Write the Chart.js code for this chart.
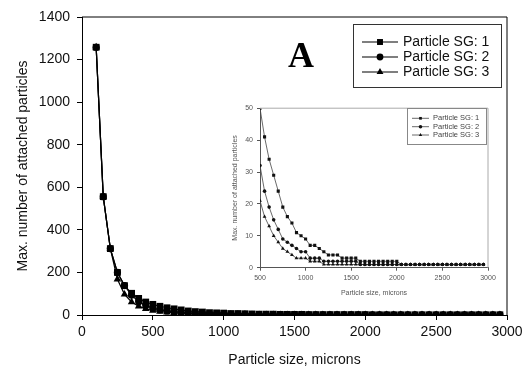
<!DOCTYPE html>
<html><head><meta charset="utf-8">
<script src="https://cdn.jsdelivr.net/npm/chart.js@4/dist/chart.umd.min.js"></script>
<style>
html,body{margin:0;padding:0;background:#fff;}
#wrap{position:relative;width:530px;height:369px;overflow:hidden;}
#main{position:absolute;left:0;top:0;}
#inset{position:absolute;left:215px;top:100px;}
</style></head><body>
<div id="wrap">
<canvas id="main" width="530" height="369" style="width:530px;height:369px"></canvas>
<canvas id="inset" width="285" height="205" style="width:285px;height:205px"></canvas>
</div>
<script>
// ---- data ----
const sizes = [100,150,200,250,300,350,400,450,500,550,600,650,700,750,800,850,900,950,1000,1050,1100,1150,1200,1250,1300,1350,1400,1450,1500,1550,1600,1650,1700,1750,1800,1850,1900,1950,2000,2050,2100,2150,2200,2250,2300,2350,2400,2450,2500,2550,2600,2650,2700,2750,2800,2850,2900,2950];
const sg1 = [1258,556,312,200,138,102,78,61,50,41,34,29,24,19,16,14,11,10,9,7,7,6,5,4,4,4,3,3,3,3,2,2,2,2,2,2,2,2,2,1,1,1,1,1,1,1,1,1,1,1,1,1,1,1,1,1,1,1];
const sg2 = [1258,556,312,200,138,93,62,44,32,24,19,15,12,9,8,7,6,5,5,3,3,3,2,2,2,2,2,2,2,2,1,1,1,1,1,1,1,1,1,1,1,1,1,1,1,1,1,1,1,1,1,1,1,1,1,1,1,1];
const sg3 = [1258,556,312,168,97,61,41,29,21,16,13,10,8,6,5,4,3,3,3,2,2,2,1,1,1,1,1,1,1,1,1,1,1,1,1,1,1,1,1,1,1,1,1,1,1,1,1,1,1,1,1,1,1,1,1,1,1,1];
const seriesLabels = ['Particle SG: 1','Particle SG: 2','Particle SG: 3'];
const mainXTicks = [0,500,1000,1500,2000,2500,3000];
const mainYTicks = [0,200,400,600,800,1000,1200,1400];
const insetXTicks = [500,1000,1500,2000,2500,3000];
const insetYTicks = [0,10,20,30,40,50];
const insetStart = 500;

const FONT = "'Liberation Sans', Arial, Helvetica, sans-serif";
const pointStyles = ['rect','circle','triangle'];
const allSeries = [sg1, sg2, sg3];
const plain = v => String(v);

function pts(arr, fromX){
  const out = [];
  sizes.forEach((x,i)=>{ if (x >= fromX) out.push({x:x, y:arr[i]}); });
  return out;
}

function drawMarker(ctx, style, r, x, y, color){
  if (Chart.helpers && Chart.helpers.drawPoint){
    ctx.save();
    ctx.fillStyle = color; ctx.strokeStyle = color;
    Chart.helpers.drawPoint(ctx, {pointStyle: style, radius: r, borderWidth: 0, rotation: 0}, x, y);
    ctx.restore();
  }
}

const framePlugin = {
  id: 'frame',
  afterDatasetsDraw(chart, args, opts){
    const a = chart.chartArea, ctx = chart.ctx;
    ctx.save();
    ctx.strokeStyle = opts.color; ctx.lineWidth = opts.width || 1;
    ctx.beginPath();
    ctx.moveTo(a.left, a.top); ctx.lineTo(a.right, a.top); ctx.lineTo(a.right, a.bottom);
    ctx.stroke();
    ctx.restore();
  }
};

const boxLegendPlugin = {
  id: 'boxLegend',
  afterDraw(chart, args, o){
    const ctx = chart.ctx;
    ctx.save();
    ctx.fillStyle = '#fff';
    ctx.fillRect(o.x, o.y, o.w, o.h);
    ctx.strokeStyle = o.boxColor; ctx.lineWidth = 1;
    ctx.strokeRect(o.x, o.y, o.w, o.h);
    chart.data.datasets.forEach((ds, i) => {
      const y = o.rows[i];
      ctx.strokeStyle = o.lineColor; ctx.lineWidth = o.lineWidth;
      ctx.beginPath(); ctx.moveTo(o.x0, y); ctx.lineTo(o.x1, y); ctx.stroke();
      drawMarker(ctx, ds.pointStyle, o.markerR[i], (o.x0 + o.x1)/2, y, o.markerColor);
      ctx.fillStyle = o.textColor;
      ctx.font = o.fontSize + 'px ' + FONT;
      ctx.textBaseline = 'middle'; ctx.textAlign = 'left';
      ctx.fillText(ds.label, o.textX, y);
    });
    ctx.restore();
  }
};

const letterPlugin = {
  id: 'letter',
  afterDraw(chart, args, o){
    if (!o || !o.text) return;
    const ctx = chart.ctx;
    ctx.save();
    ctx.fillStyle = '#000';
    ctx.font = 'bold ' + o.size + "px 'Liberation Serif', 'Times New Roman', serif";
    ctx.textBaseline = 'alphabetic'; ctx.textAlign = 'left';
    ctx.fillText(o.text, o.x, o.y);
    ctx.restore();
  }
};

// ---- main chart ----
const mainRadii = [4.8, 3.6, 4.4];
new Chart(document.getElementById('main'), {
  type: 'line',
  data: {
    datasets: allSeries.map((s, i) => ({
      label: seriesLabels[i],
      data: pts(s, 0),
      borderColor: '#000', backgroundColor: '#000', borderWidth: 1.2,
      pointStyle: pointStyles[i], pointRadius: mainRadii[i],
      pointBackgroundColor: '#000', pointBorderColor: '#000', pointBorderWidth: 0,
      tension: 0
    }))
  },
  options: {
    responsive: false, animation: false, devicePixelRatio: 1,
    layout: {padding: {left: 0, top: 17, right: 23, bottom: 0}},
    plugins: {
      legend: {display: false}, tooltip: {enabled: false},
      frame: {color: '#000', width: 1},
      boxLegend: {x: 353.5, y: 24.5, w: 148, h: 63, rows: [42, 57, 72], x0: 362, x1: 398, textX: 403,
        fontSize: 14, markerR: [4.2, 3.4, 4.0], boxColor: '#333', lineColor: '#000', lineWidth: 1.2,
        markerColor: '#000', textColor: '#111'},
      letter: {text: 'A', x: 288, y: 67, size: 36}
    },
    scales: {
      x: {
        type: 'linear', min: 0, max: 3000,
        afterBuildTicks: s => { s.ticks = mainXTicks.map(v => ({value: v})); },
        afterFit: s => { s.height = 54; },
        grid: {display: true, drawOnChartArea: false, drawTicks: true, tickLength: 5, color: '#000'},
        border: {color: '#000', width: 1},
        ticks: {font: {family: FONT, size: 14}, color: '#111', padding: 4, maxRotation: 0, autoSkip: false, callback: plain},
        title: {display: true, text: 'Particle size, microns', font: {family: FONT, size: 14}, color: '#111', padding: {top: 0, bottom: 0}}
      },
      y: {
        type: 'linear', min: 0, max: 1400,
        afterBuildTicks: s => { s.ticks = mainYTicks.map(v => ({value: v})); },
        afterFit: s => { s.width = 82; },
        grid: {display: true, drawOnChartArea: false, drawTicks: true, tickLength: 5, color: '#000'},
        border: {color: '#000', width: 1},
        ticks: {font: {family: FONT, size: 14}, color: '#111', padding: 7, autoSkip: false, callback: plain},
        title: {display: true, text: 'Max. number of attached particles', font: {family: FONT, size: 14}, color: '#111', padding: {top: 14.6, bottom: 0}}
      }
    }
  },
  plugins: [framePlugin, boxLegendPlugin, letterPlugin]
});

// ---- inset chart ----
const insetRadii = [2.2, 1.8, 2.2];
new Chart(document.getElementById('inset'), {
  type: 'line',
  data: {
    datasets: allSeries.map((s, i) => ({
      label: seriesLabels[i],
      data: pts(s, insetStart),
      borderColor: '#444', backgroundColor: '#111', borderWidth: 0.8,
      pointStyle: pointStyles[i], pointRadius: insetRadii[i],
      pointBackgroundColor: '#111', pointBorderColor: '#111', pointBorderWidth: 0,
      tension: 0
    }))
  },
  options: {
    responsive: false, animation: false, devicePixelRatio: 1,
    layout: {padding: {left: 0, top: 7.3, right: 12, bottom: 0}},
    plugins: {
      legend: {display: false}, tooltip: {enabled: false},
      frame: {color: '#aaa', width: 1},
      boxLegend: {x: 192.5, y: 8.5, w: 79, h: 36, rows: [18.3, 26.7, 35], x0: 197, x1: 214, textX: 218,
        fontSize: 7.5, markerR: [1.9, 1.8, 2.0], boxColor: '#888', lineColor: '#444', lineWidth: 0.8,
        markerColor: '#111', textColor: '#444'},
      letter: {}
    },
    scales: {
      x: {
        type: 'linear', min: 500, max: 3000,
        afterBuildTicks: s => { s.ticks = insetXTicks.map(v => ({value: v})); },
        afterFit: s => { s.height = 37.3; },
        grid: {display: true, drawOnChartArea: false, drawTicks: true, tickLength: 3, color: '#555'},
        border: {color: '#555', width: 1},
        ticks: {font: {family: FONT, size: 7}, color: '#555', padding: 3.4, maxRotation: 0, autoSkip: false, callback: plain},
        title: {display: true, text: 'Particle size, microns', font: {family: FONT, size: 7}, color: '#555', padding: {top: 0, bottom: 7.5}}
      },
      y: {
        type: 'linear', min: 0, max: 50,
        afterBuildTicks: s => { s.ticks = insetYTicks.map(v => ({value: v})); },
        afterFit: s => { s.width = 45; },
        grid: {display: true, drawOnChartArea: false, drawTicks: true, tickLength: 3, color: '#555'},
        border: {color: '#555', width: 1},
        ticks: {font: {family: FONT, size: 7}, color: '#555', padding: 4, autoSkip: false, callback: plain},
        title: {display: true, text: 'Max. number of attached particles', font: {family: FONT, size: 7}, color: '#555', padding: {top: 15.8, bottom: 0}}
      }
    }
  },
  plugins: [framePlugin, boxLegendPlugin, letterPlugin]
});
</script>
</body></html>
